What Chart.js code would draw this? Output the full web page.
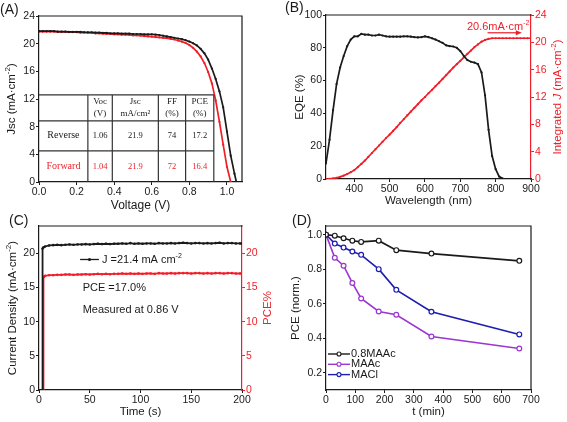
<!DOCTYPE html>
<html>
<head>
<meta charset="utf-8">
<script src="https://cdn.jsdelivr.net/npm/chart.js@4.4.0/dist/chart.umd.min.js"></script>
<style>
  html, body { margin:0; padding:0; background:#fff; }
  #wrap { position:relative; width:567px; height:422px; overflow:hidden; }
  canvas { position:absolute; }
</style>
</head>
<body>
<div id="wrap">
  <canvas id="cA" width="283" height="216" style="left:0;top:0"></canvas>
  <canvas id="cB" width="284" height="216" style="left:283px;top:0"></canvas>
  <canvas id="cC" width="283" height="212" style="left:0;top:210px"></canvas>
  <canvas id="cD" width="284" height="212" style="left:283px;top:210px"></canvas>
</div>
<script>
// ===== DATA =====
// (A) J-V curves
const VOLTAGE = [0, 0.02, 0.04, 0.06, 0.08, 0.1, 0.12, 0.14, 0.16, 0.18,
  0.2, 0.22, 0.24, 0.26, 0.28, 0.3, 0.32, 0.34, 0.36, 0.38,
  0.4, 0.42, 0.44, 0.46, 0.48, 0.5, 0.52, 0.54, 0.56, 0.58,
  0.6, 0.62, 0.64, 0.66, 0.68, 0.7, 0.72, 0.74, 0.76, 0.78,
  0.8, 0.82, 0.84, 0.86, 0.88, 0.9, 0.92, 0.94, 0.96, 0.98,
  1.0, 1.02, 1.04, 1.05];
const J_REVERSE = [21.8, 21.8, 21.8, 21.8, 21.8, 21.75, 21.75, 21.75, 21.7, 21.7,
  21.7, 21.7, 21.65, 21.65, 21.65, 21.6, 21.6, 21.55, 21.55, 21.5,
  21.5, 21.5, 21.45, 21.45, 21.45, 21.4, 21.4, 21.4, 21.35, 21.35,
  21.35, 21.3, 21.25, 21.15, 21.05, 20.95, 20.85, 20.75, 20.65, 20.5,
  20.3, 20.05, 19.75, 19.25, 18.6, 17.7, 16.4, 14.9, 13.1, 10.8,
  7.3, 3.8, 1.2, 0];
const J_FORWARD = [21.75, 21.75, 21.75, 21.75, 21.75, 21.7, 21.7, 21.7, 21.65, 21.65,
  21.65, 21.6, 21.6, 21.55, 21.55, 21.5, 21.5, 21.45, 21.4, 21.4,
  21.35, 21.35, 21.3, 21.3, 21.25, 21.2, 21.2, 21.15, 21.1, 21.05,
  21.0, 20.95, 20.9, 20.85, 20.8, 20.7, 20.6, 20.45, 20.3, 20.1,
  19.8, 19.4, 18.85, 18.15, 17.2, 15.9, 14.25, 11.8, 8.7, 5.4,
  2.2, 0];
const TABLE_HEAD = [['Voc', '(V)'], ['Jsc', 'mA/cm²'], ['FF', '(%)'], ['PCE', '(%)']];
const TABLE_BODY = [
  ['Reverse', '1.06', '21.9', '74', '17.2'],
  ['Forward', '1.04', '21.9', '72', '16.4']
];
const TICK_V = [0, 0.2, 0.4, 0.6, 0.8, 1.0];
const TICK_JSC = [0, 4, 8, 12, 16, 20, 24];

// (B) EQE + integrated J
const WAVELENGTH = [320, 330, 340, 350, 360, 370, 380, 390, 400, 410,
  420, 430, 440, 450, 460, 470, 480, 490, 500, 510,
  520, 530, 540, 550, 560, 570, 580, 590, 600, 610,
  620, 630, 640, 650, 660, 670, 680, 690, 700, 710,
  720, 730, 740, 750, 760, 770, 780, 790, 800, 810,
  820, 830, 840, 850, 860, 870, 880, 890, 900];
const EQE = [9.5, 24, 42, 58, 68, 75, 81, 85, 87, 87,
  88.5, 88, 88, 87.5, 87.5, 88, 87.5, 87, 86.8, 86.8,
  86.8, 86.8, 87, 87, 86.8, 86.5, 86.3, 86.5, 87, 86.5,
  85.8, 85, 84, 83, 81.5, 81, 80.8, 80, 78, 75,
  72.5, 71.5, 71, 70, 65, 51, 30, 14, 6, 1.5,
  0.3, 0, 0, 0, 0, 0, 0, 0, 0];
const INT_J = [0, 0.02, 0.08, 0.18, 0.32, 0.5, 0.72, 1.0, 1.3, 1.75,
  2.2, 2.7, 3.25, 3.8, 4.35, 4.9, 5.45, 6.0, 6.5, 7.05,
  7.6, 8.2, 8.75, 9.3, 9.85, 10.4, 10.95, 11.5, 12.0, 12.55,
  13.05, 13.6, 14.1, 14.65, 15.2, 15.75, 16.3, 16.8, 17.3, 17.8,
  18.3, 18.8, 19.3, 19.7, 20.1, 20.35, 20.5, 20.6, 20.6, 20.6,
  20.6, 20.6, 20.6, 20.6, 20.6, 20.6, 20.6, 20.6, 20.6];
const TICK_NM = [400, 500, 600, 700, 800, 900];
const TICK_EQE = [0, 20, 40, 60, 80, 100];
const TICK_INTJ = [0, 4, 8, 12, 16, 20, 24];

// (C) steady-state tracking
const RISE_T_J = [3.4, 3.5, 4.5];
const RISE_J = [0, 20.7, 20.9];
const RISE_T_P = [4.3, 4.4, 5];
const RISE_P = [0, 16.5, 16.6];
const TIME = [6, 10, 14, 18, 22, 26, 30, 34, 38, 42,
  46, 50, 54, 58, 62, 66, 70, 74, 78, 82,
  86, 90, 94, 98, 102, 106, 110, 114, 118, 122,
  126, 130, 134, 138, 142, 146, 150, 154, 158, 162,
  166, 170, 174, 178, 182, 186, 190, 194, 198, 200];
const J_TRACK = [21.0, 21.15, 21.2, 21.25, 21.2, 21.25, 21.3, 21.25, 21.3, 21.3,
  21.35, 21.3, 21.35, 21.4, 21.35, 21.4, 21.35, 21.4, 21.4, 21.45,
  21.4, 21.5, 21.4, 21.45, 21.4, 21.45, 21.45, 21.4, 21.5, 21.45,
  21.45, 21.5, 21.45, 21.5, 21.55, 21.5, 21.45, 21.5, 21.5, 21.45,
  21.5, 21.45, 21.5, 21.55, 21.45, 21.5, 21.5, 21.45, 21.45, 21.45];
const PCE_TRACK = [16.7, 16.8, 16.8, 16.85, 16.85, 16.9, 16.9, 16.85, 16.9, 16.9,
  16.95, 16.9, 16.95, 17.0, 16.95, 17.0, 16.95, 17.0, 17.0, 17.05,
  17.0, 17.05, 17.0, 17.05, 17.0, 17.05, 17.05, 17.0, 17.1, 17.05,
  17.05, 17.1, 17.05, 17.1, 17.1, 17.1, 17.05, 17.1, 17.1, 17.05,
  17.1, 17.05, 17.1, 17.1, 17.05, 17.1, 17.1, 17.05, 17.05, 17.05];
const TICK_TIME = [0, 50, 100, 150, 200];
const TICK_CD = [0, 5, 10, 15, 20];
const TICK_PCE = [0, 5, 10, 15, 20];

// (D) stability
const AGE_MIN = [0, 30, 60, 90, 120, 180, 240, 360, 660];
const PCE_08MAAC = [1.0, 0.994, 0.979, 0.965, 0.958, 0.965, 0.91, 0.89, 0.848];
const PCE_MAAC = [1.0, 0.866, 0.82, 0.72, 0.63, 0.555, 0.536, 0.41, 0.34];
const PCE_MACL = [1.0, 0.948, 0.925, 0.902, 0.883, 0.80, 0.68, 0.553, 0.422];
const D_LABELS = ['0.8MAAc', 'MAAc', 'MACl'];
const TICK_AGE = [0, 100, 200, 300, 400, 500, 600, 700];
const TICK_NORM = [0.2, 0.4, 0.6, 0.8, 1.0];

// ===== STYLE =====
const FONT = '"Liberation Sans", Arial, sans-serif';
const SERIF = '"Liberation Serif", "Times New Roman", serif';
const INK = '#1a1a1a';
const RED = '#f01e28';
const PURPLE = '#9b36d1';
const BLUE = '#1d1db0';

Chart.defaults.font.family = FONT;
Chart.defaults.font.size = 10.5;
Chart.defaults.color = INK;

function pts(xs, ys){ return ys.map((y, i) => ({x: xs[i], y})); }

function axis(o){
  const c = o.color || INK;
  return {
    type:'linear', position:o.pos, min:o.min, max:o.max,
    afterBuildTicks: s => { s.ticks = o.ticks.map(v => ({value:v})); },
    afterFit: s => { if(o.pos === 'bottom') s.height = o.size; else s.width = o.size; },
    ticks:{color:c, padding:1, autoSkip:false, maxRotation:0, font:{size:10.5},
      callback: o.fmt || (v => String(v))},
    grid:{drawOnChartArea:false, tickLength:3, tickColor:c, tickWidth:1},
    border:{color:c, width:1.2}
  };
}

function base(top, right, scales){
  return {
    responsive:false, animation:false, events:[],
    layout:{padding:{left:0, bottom:0, top, right}, autoPadding:false},
    plugins:{legend:{display:false}, tooltip:{enabled:false}},
    scales
  };
}

const T = (t, o) => Object.assign({t}, o);

// mixed text with superscript / italic pieces
function rich(ctx, parts, x, y, o = {}){
  const size = o.size || 11.5;
  const fam = o.family || FONT;
  ctx.save();
  ctx.translate(x, y);
  if(o.rot) ctx.rotate(o.rot);
  ctx.fillStyle = o.color || INK;
  ctx.textAlign = 'left';
  ctx.textBaseline = 'middle';
  const font = p => `${p.it ? 'italic ' : ''}${p.sup ? Math.round(size * 0.68) : size}px ${fam}`;
  let w = 0;
  for(const p of parts){ ctx.font = font(p); w += ctx.measureText(p.t).width; }
  let cx = o.align === 'left' ? 0 : -w / 2;
  for(const p of parts){
    ctx.font = font(p);
    ctx.fillText(p.t, cx, p.sup ? -size * 0.33 : 0);
    cx += ctx.measureText(p.t).width;
  }
  ctx.restore();
}

function edges(ctx, a, sides, color){
  ctx.save();
  ctx.strokeStyle = color || INK;
  ctx.lineWidth = 1.2;
  ctx.beginPath();
  if(sides.includes('t')){ ctx.moveTo(a.left - 0.6, a.top); ctx.lineTo(a.right + 0.6, a.top); }
  if(sides.includes('r')){ ctx.moveTo(a.right, a.top); ctx.lineTo(a.right, a.bottom); }
  ctx.stroke();
  ctx.restore();
}

const UP = -Math.PI / 2;
const line = (data, color, extra) => Object.assign({
  data, borderColor:color, backgroundColor:color, borderWidth:1.7,
  pointRadius:1.1, pointBorderWidth:0, tension:0
}, extra || {});

// ===== (A) =====
new Chart(document.getElementById('cA'), {
  type:'line',
  data:{datasets:[
    line(pts(VOLTAGE, J_REVERSE), INK),
    line(pts(VOLTAGE, J_FORWARD), RED)
  ]},
  options:base(16, 41, {
    x:axis({pos:'bottom', min:0, max:1.08, ticks:TICK_V, size:34, fmt:v => v.toFixed(1)}),
    y:axis({pos:'left', min:0, max:24, ticks:TICK_JSC, size:39})
  }),
  plugins:[{
    id:'decorA',
    afterDraw(chart){
      const {ctx, chartArea:a, scales:{x, y}} = chart;
      edges(ctx, a, 'tr');
      // inset table
      const cols = [0, 0.26, 0.39, 0.635, 0.78, 0.93].map(v => x.getPixelForValue(v));
      const rows = [0, 4.5, 8.85, 12.6].map(v => y.getPixelForValue(v));
      ctx.save();
      ctx.strokeStyle = '#333';
      ctx.lineWidth = 1.2;
      ctx.beginPath();
      rows.slice(1).forEach(r => { ctx.moveTo(cols[0], r); ctx.lineTo(cols[5], r); });
      cols.slice(1).forEach(c => { ctx.moveTo(c, rows[0]); ctx.lineTo(c, rows[3]); });
      ctx.stroke();
      ctx.restore();
      const mid = i => (cols[i] + cols[i + 1]) / 2;
      TABLE_HEAD.forEach((h, i) => {
        const top = rows[3], bot = rows[2];
        rich(ctx, [T(h[0])], mid(i + 1), top + (bot - top) * 0.25, {family:SERIF, size:9});
        rich(ctx, [T(h[1])], mid(i + 1), top + (bot - top) * 0.73, {family:SERIF, size:9});
      });
      TABLE_BODY.forEach((r, k) => {
        const cy = (rows[2 - k] + rows[1 - k]) / 2;
        const color = k === 0 ? INK : RED;
        r.forEach((cell, i) => {
          rich(ctx, [T(cell)], mid(i), cy, {family:SERIF, size:i === 0 ? 10 : 8.5, color});
        });
      });
      rich(ctx, [T('(A)')], 0, 10, {size:14, align:'left'});
      rich(ctx, [T('Jsc (mA·cm'), T('-2', {sup:true}), T(')')], 12, (a.top + a.bottom) / 2, {rot:UP});
      rich(ctx, [T('Voltage (V)')], (a.left + a.right) / 2, 206, {size:12});
    }
  }]
});

// ===== (B) =====
new Chart(document.getElementById('cB'), {
  type:'line',
  data:{datasets:[
    line(pts(WAVELENGTH, EQE), INK, {yAxisID:'y'}),
    line(pts(WAVELENGTH, INT_J), RED, {yAxisID:'y1'})
  ]},
  options:base(15, 0, {
    x:axis({pos:'bottom', min:320, max:900, ticks:TICK_NM, size:37}),
    y:axis({pos:'left', min:0, max:100, ticks:TICK_EQE, size:43}),
    y1:axis({pos:'right', min:0, max:24, ticks:TICK_INTJ, size:36, color:RED})
  }),
  plugins:[{
    id:'decorB',
    afterDraw(chart){
      const {ctx, chartArea:a, scales:{x, y1}} = chart;
      edges(ctx, a, 't');
      // 20.6 mA cm-2 plateau arrow
      const ay = y1.getPixelForValue(21.4);
      const x0 = x.getPixelForValue(777), x1 = x.getPixelForValue(874);
      ctx.save();
      ctx.strokeStyle = RED; ctx.fillStyle = RED; ctx.lineWidth = 1.2;
      ctx.beginPath(); ctx.moveTo(x0, ay); ctx.lineTo(x1 - 4, ay); ctx.stroke();
      ctx.beginPath(); ctx.moveTo(x1, ay); ctx.lineTo(x1 - 6, ay - 2.5); ctx.lineTo(x1 - 6, ay + 2.5); ctx.closePath(); ctx.fill();
      ctx.restore();
      rich(ctx, [T('20.6mA·cm'), T('-2', {sup:true})], x.getPixelForValue(807), y1.getPixelForValue(22.3), {size:11, color:RED});
      rich(ctx, [T('(B)')], 2, 8, {size:14, align:'left'});
      rich(ctx, [T('EQE (%)')], 17, (a.top + a.bottom) / 2, {rot:UP});
      rich(ctx, [T('Integrated '), T('J', {it:true}), T(' (mA·cm'), T('-2', {sup:true}), T(')')],
        275, (a.top + a.bottom) / 2, {rot:UP, color:RED});
      rich(ctx, [T('Wavelength (nm)')], (a.left + a.right) / 2, 201);
    }
  }]
});

// ===== (C) =====
new Chart(document.getElementById('cC'), {
  type:'line',
  data:{datasets:[
    line(pts(RISE_T_J.concat(TIME), RISE_J.concat(J_TRACK)), INK, {yAxisID:'y', borderWidth:1.8, pointRadius:1.3}),
    line(pts(RISE_T_P.concat(TIME), RISE_P.concat(PCE_TRACK)), RED, {yAxisID:'y1', borderWidth:1.8, pointRadius:1.3})
  ]},
  options:base(16, 0, {
    x:axis({pos:'bottom', min:0, max:200, ticks:TICK_TIME, size:32}),
    y:axis({pos:'left', min:0, max:24, ticks:TICK_CD, size:39}),
    y1:axis({pos:'right', min:0, max:24, ticks:TICK_PCE, size:41, color:RED})
  }),
  plugins:[{
    id:'decorC',
    afterDraw(chart){
      const {ctx, chartArea:a, scales:{x, y}} = chart;
      edges(ctx, a, 't');
      // legend sample
      const ly = y.getPixelForValue(19.1);
      const lx0 = x.getPixelForValue(40.5), lx1 = x.getPixelForValue(59);
      ctx.save();
      ctx.strokeStyle = INK; ctx.fillStyle = INK; ctx.lineWidth = 1.3;
      ctx.beginPath(); ctx.moveTo(lx0, ly); ctx.lineTo(lx1, ly); ctx.stroke();
      ctx.beginPath(); ctx.arc((lx0 + lx1) / 2, ly, 1.6, 0, Math.PI * 2); ctx.fill();
      ctx.restore();
      rich(ctx, [T(' J =21.4 mA cm'), T('-2', {sup:true})], lx1, ly, {size:11, align:'left'});
      rich(ctx, [T('PCE =17.0%')], x.getPixelForValue(43), y.getPixelForValue(14.9), {size:11, align:'left'});
      rich(ctx, [T('Measured at 0.86 V')], x.getPixelForValue(43), y.getPixelForValue(11.7), {size:11, align:'left'});
      rich(ctx, [T('(C)')], 9, 11.5, {size:14, align:'left'});
      rich(ctx, [T('Current Density (mA·cm'), T('-2', {sup:true}), T(')')], 13, (a.top + a.bottom) / 2, {rot:UP});
      rich(ctx, [T('PCE%')], 268, (a.top + a.bottom) / 2, {rot:UP, color:RED});
      rich(ctx, [T('Time (s)')], (a.left + a.right) / 2, 202);
    }
  }]
});

// ===== (D) =====
const D_COLORS = [INK, PURPLE, BLUE];
const hollow = color => ({borderColor:color, backgroundColor:'#fff', pointBackgroundColor:'#fff',
  pointBorderColor:color, pointBorderWidth:1.2, pointRadius:2.4, borderWidth:1.6});
new Chart(document.getElementById('cD'), {
  type:'line',
  data:{datasets:[
    line(pts(AGE_MIN, PCE_08MAAC), INK, hollow(INK)),
    line(pts(AGE_MIN, PCE_MAAC), PURPLE, hollow(PURPLE)),
    line(pts(AGE_MIN, PCE_MACL), BLUE, hollow(BLUE))
  ]},
  options:base(16, 36, {
    x:axis({pos:'bottom', min:0, max:700, ticks:TICK_AGE, size:32}),
    y:axis({pos:'left', min:0.1, max:1.05, ticks:TICK_NORM, size:43, fmt:v => v.toFixed(1)})
  }),
  plugins:[{
    id:'decorD',
    afterDraw(chart){
      const {ctx, chartArea:a} = chart;
      edges(ctx, a, 'tr');
      D_LABELS.forEach((lab, i) => {
        const ly = a.bottom - 36 + i * 10.3;
        ctx.save();
        ctx.strokeStyle = D_COLORS[i]; ctx.lineWidth = 1.4;
        ctx.beginPath(); ctx.moveTo(a.left + 2, ly); ctx.lineTo(a.left + 24, ly); ctx.stroke();
        ctx.fillStyle = '#fff'; ctx.lineWidth = 1.1;
        ctx.beginPath(); ctx.arc(a.left + 13, ly, 2, 0, Math.PI * 2); ctx.fill(); ctx.stroke();
        ctx.restore();
        rich(ctx, [T(lab)], a.left + 25, ly, {size:11, align:'left'});
      });
      rich(ctx, [T('(D)')], 9, 11.5, {size:14, align:'left'});
      rich(ctx, [T('PCE (norm.)')], 13, (a.top + a.bottom) / 2, {rot:UP});
      rich(ctx, [T('t (min)')], (a.left + a.right) / 2, 202);
    }
  }]
});
</script>
</body>
</html>
